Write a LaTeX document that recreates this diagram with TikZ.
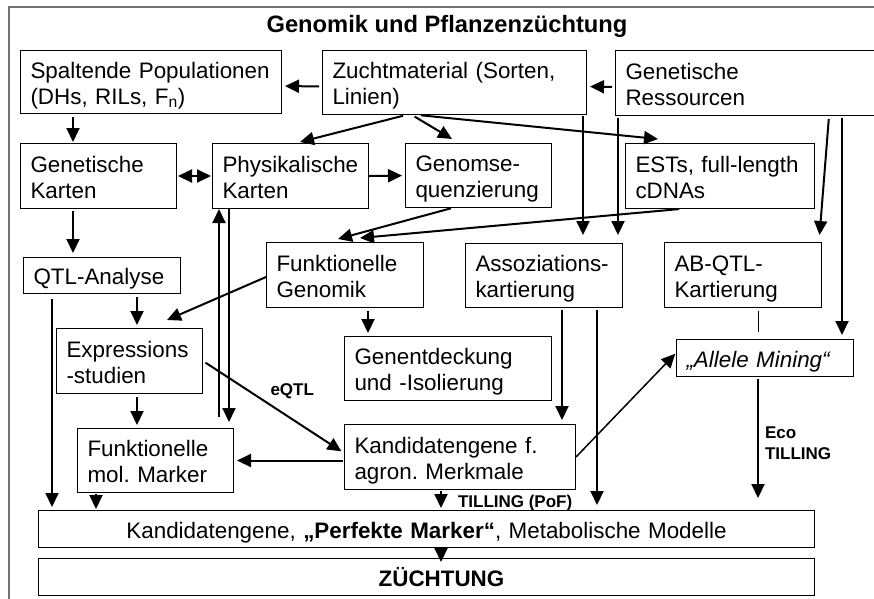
\documentclass[tikz,border=0pt]{standalone}
\usepackage{fontspec}
\setmainfont{Liberation Sans}
\usetikzlibrary{arrows.meta}
\newcommand{\topstrut}{\vrule width 0pt height 23pt depth 0pt\relax}
\newcommand{\botstrut}{\vrule width 0pt height 0pt depth 5pt\relax}
\newcommand{\boxfont}{\fontsize{22.4}{26}\selectfont}
\hyphenpenalty=10000
\exhyphenpenalty=10000
\frenchspacing

\begin{document}
\begin{tikzpicture}[
    x=1pt,
    y=-1pt,
    >={Triangle[length=14pt,width=13pt]},
    blockbox/.style={
      draw=black,
      line width=1pt,
      anchor=north west,
      align=left,
      inner xsep=10pt,
      inner ysep=0pt,
      font=\boxfont,
      execute at begin node=\topstrut,
      execute at end node=\botstrut
    },
    headline/.style={font=\fontsize{23.7}{28}\selectfont\bfseries, inner sep=0pt},
    note/.style={font=\fontsize{17}{21}\selectfont\bfseries, inner sep=0pt, align=left},
    flow/.style={->, line width=2pt, shorten <=3pt, shorten >=3pt},
    thinlink/.style={line width=1pt}
  ]
    \useasboundingbox (0,0) rectangle (874,598);

    % outer frame and heading
    \draw[black!55, line width=1.2pt] (9,620) -- (9,7) -- (890,7);
    \node[headline, anchor=base] (title) at (447,32) {Genomik und Pflanzenzüchtung};

    % first row
    \node[blockbox, text width=241pt, minimum height=63pt] (spalt) at (20,50) {Spaltende Populationen\\(DHs, RILs, F\textsubscript{n})};
    \node[blockbox, text width=244pt, minimum height=64pt] (zucht) at (322,50) {Zuchtmaterial (Sorten,\\Linien)};
    \node[blockbox, text width=241pt, minimum height=65pt] (ress) at (615,50) {Genetische\\Ressourcen};

    % maps and sequences
    \node[blockbox, text width=136pt, minimum height=65pt] (genk) at (20,143) {Genetische\\Karten};
    \node[blockbox, text width=136pt, minimum height=65pt] (physk) at (212,143) {Physikalische\\Karten};
    \node[blockbox, text width=126pt, minimum height=64pt] (genseq) at (405,143) {Genomse-\\quenzierung};
    \node[blockbox, text width=169pt, minimum height=65pt] (ests) at (625,143) {ESTs, full-length\\cDNAs};

    % analysis row
    \node[blockbox, text width=137pt, minimum height=36pt] (qtl) at (23,257) {QTL-Analyse};
    \node[blockbox, text width=137pt, minimum height=65pt] (funkgen) at (266,242) {Funktionelle\\Genomik};
    \node[blockbox, text width=137pt, minimum height=64pt] (assoz) at (465,243) {Assoziations-\\kartierung};
    \node[blockbox, text width=137pt, minimum height=65pt] (abqtl) at (664,242) {AB-QTL-\\Kartierung};

    \node[blockbox, text width=126pt, minimum height=65pt] (expr) at (56,328) {Expressions\\-studien};
    \node[blockbox, text width=187pt, minimum height=64pt] (genent) at (344,336) {Genentdeckung\\und -Isolierung};
    \node[blockbox, text width=157pt, minimum height=37pt] (allele) at (676,339) {\itshape „Allele Mining“};

    \node[blockbox, text width=136pt, minimum height=64pt] (funkmark) at (77,428) {Funktionelle\\mol. Marker};
    \node[blockbox, text width=211pt, minimum height=65pt] (kandag) at (344,424) {Kandidatengene f.\\agron. Merkmale};

    % results
    \node[blockbox, align=center, text width=756pt, minimum height=37pt] (perfekt) at (38,510) {Kandidatengene, \textbf{„Perfekte Marker“}, Metabolische Modelle};
    \node[blockbox, align=center, text width=756pt, minimum height=37pt] (zuecht) at (38,558) {\hspace*{30pt}\textbf{ZÜCHTUNG}};

    % top row arrows
    \draw[flow] ([yshift=-4pt]zucht.west) -- ([yshift=-4pt]spalt.east);
    \draw[flow] ([yshift=-4pt]ress.west) -- ([yshift=-4pt]zucht.east);
    \draw[flow, shorten >=1pt] ([xshift=53pt]spalt.south west) -- ([xshift=53pt]genk.north west);
    \draw[flow, shorten >=0pt] ([xshift=84pt]zucht.south west) -- ([xshift=88pt,yshift=1pt]physk.north west);
    \draw[flow, shorten >=0pt] ([xshift=90pt]zucht.south west) -- ([xshift=47pt,yshift=4pt]genseq.north west);
    \draw[flow, shorten >=0pt] ([xshift=96pt]zucht.south west) -- ([xshift=33pt,yshift=4pt]ests.north west);
    \draw[flow, shorten <=1pt, shorten >=8pt] ([xshift=261pt]zucht.south west) -- ([xshift=118pt]assoz.north west);
    \draw[flow, shorten <=2pt, shorten >=8pt] ([xshift=3pt]ress.south west) -- ([xshift=153pt]assoz.north west);
    \draw[flow, shorten >=7pt] ([xshift=214pt]ress.south west) -- ([xshift=155pt]abqtl.north west);
    \draw[flow, shorten <=2pt, shorten >=4pt] ([xshift=227pt]ress.south west) -- ([xshift=166pt]allele.north west);

    % maps
    \draw[<->, line width=2pt, shorten <=1pt, shorten >=1pt] (genk.east) -- (physk.west);
    \draw[flow, shorten <=0pt] (physk.east) -- (genseq.west);
    \draw[flow, shorten <=1pt, shorten >=0pt] ([xshift=47pt]genseq.south west) -- ([xshift=72pt,yshift=3pt]funkgen.north west);
    \draw[flow, shorten <=1pt, shorten >=0pt] ([xshift=55pt]ests.south west) -- ([xshift=94pt,yshift=4pt]funkgen.north west);
    \draw[flow, shorten <=2pt, shorten >=4pt] ([xshift=53pt]genk.south west) -- ([xshift=50pt]qtl.north west);
    \draw[flow, shorten <=11pt, shorten >=0pt] ([xshift=142pt]funkmark.north west) -- ([xshift=7pt]physk.south west);
    \draw[flow, shorten <=0pt, shorten >=6pt] ([xshift=17pt]physk.south west) -- ([xshift=152pt]funkmark.north west);

    % middle part
    \draw[flow] ([xshift=114pt]qtl.south west) -- ([xshift=81pt]expr.north west);
    \draw[flow, shorten <=0pt, shorten >=0pt] ([yshift=-2pt]funkgen.west) -- ([xshift=111pt,yshift=8pt]expr.north west);
    \draw[flow] ([xshift=102pt]funkgen.south west) -- ([xshift=24pt]genent.north west);
    \draw[flow, shorten <=5pt] ([xshift=29pt]qtl.south west) -- ([xshift=14pt]perfekt.north west);
    \draw[flow] ([xshift=81pt]expr.south west) -- ([xshift=60pt]funkmark.north west);
    \draw[flow] (expr.east) -- ([yshift=4pt]kandag.west)
      node[note, midway, anchor=south west, xshift=-4pt, yshift=7pt] (lbleqtl) {eQTL};
    \draw[flow, shorten <=1pt] (kandag.west |- funkmark.east) -- (funkmark.east);
    \draw[flow, shorten <=2pt, shorten >=4pt] ([xshift=97pt]assoz.south west) -- ([xshift=218pt]kandag.north west);
    \draw[flow, shorten <=2pt, shorten >=5pt] ([xshift=132pt]assoz.south west) -- ([xshift=559pt]perfekt.north west);
    \draw[flow, line width=1.5pt, shorten <=0pt, shorten >=1pt] (kandag.east) -- ([yshift=5pt]allele.west);
    \draw[thinlink, shorten <=3pt, shorten >=7pt] ([xshift=94pt]abqtl.south west) -- ([xshift=82pt]allele.north west);
    \draw[flow, shorten <=2pt, shorten >=12pt] ([xshift=82pt]allele.south west) -- ([xshift=720pt]perfekt.north west)
      node[note, midway, anchor=west, xshift=6pt] (lbleco) {Eco\\TILLING};

    % lower arrows
    \draw[flow, shorten <=1pt, shorten >=1pt] ([xshift=19pt]funkmark.south west) -- ([xshift=58pt]perfekt.north west);
    \draw[flow, shorten <=1pt, shorten >=2pt] ([xshift=97pt]kandag.south west) -- ([xshift=403pt]perfekt.north west)
      node[note, midway, anchor=west, xshift=16pt, yshift=-3pt] (lbltilling) {TILLING (PoF)};
    \draw[flow, shorten <=1pt, shorten >=-4pt] ([xshift=403pt]perfekt.south west) -- ([xshift=403pt]zuecht.north west);
  \end{tikzpicture}
\end{document}
